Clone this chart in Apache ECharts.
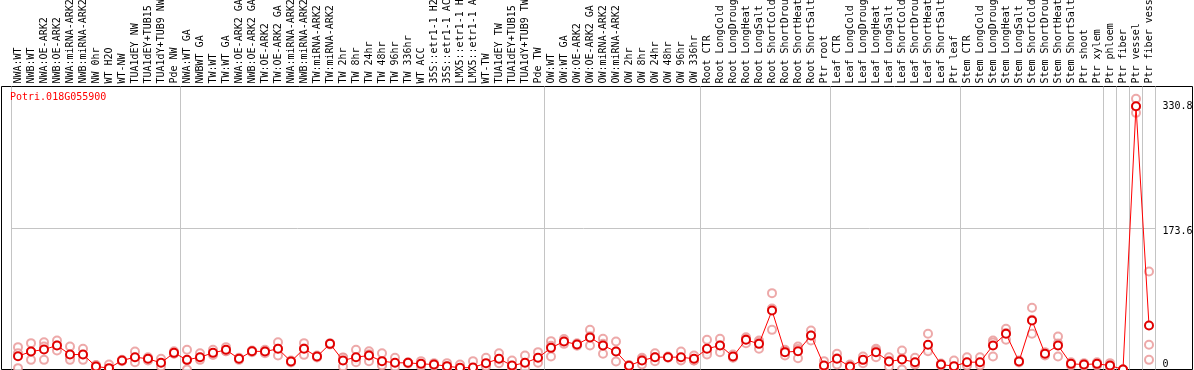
<!DOCTYPE html>
<html><head><meta charset="utf-8">
<script src="https://cdn.jsdelivr.net/npm/echarts@6/dist/echarts.min.js"></script>
<style>html,body{margin:0;padding:0;background:#fff}#c{width:1194px;height:370px}</style>
</head><body><div id="c"></div>
<script>
const chartTitle = 'Potri.018G055900';
const categories = [
  'NWA:WT','NWB:WT','NWA:OE-ARK2','NWB:OE-ARK2','NWA:miRNA-ARK2','NWB:miRNA-ARK2','NW 0hr','WT H2O','WT-NW','TUA1dEY NW','TUA1dEY+TUB15','TUA1dY+TUB9 NW','Pde NW',
  'NWA:WT GA','NWBWT GA','TW:WT','TW:WT GA','NWA:OE-ARK2 GA','NWB:OE-ARK2 GA','TW:OE-ARK2','TW:OE-ARK2 GA','NWA:miRNA-ARK2','NWB:miRNA-ARK2','TW:miRNA-ARK2','TW:miRNA-ARK2',
  'TW 2hr','TW 8hr','TW 24hr','TW 48hr','TW 96hr','TW 336hr','WT ACC','35S::etr1-1 H2','35S::etr1-1 AC','LMX5::etr1-1 H','LMX5::etr1-1 A','WT-TW','TUA1dEY TW','TUA1dEY+TUB15','TUA1dY+TUB9 TW','Pde TW',
  'OW:WT','OW:WT GA','OW:OE-ARK2','OW:OE-ARK2 GA','OW:miRNA-ARK2','OW:miRNA-ARK2','OW 2hr','OW 8hr','OW 24hr','OW 48hr','OW 96hr','OW 336hr',
  'Root CTR','Root LongCold','Root LongDroug','Root LongHeat','Root LongSalt','Root ShortCold','Root ShortDrou','Root ShortHeat','Root ShortSalt','Ptr root',
  'Leaf CTR','Leaf LongCold','Leaf LongDroug','Leaf LongHeat','Leaf LongSalt','Leaf ShortCold','Leaf ShortDrou','Leaf ShortHeat','Leaf ShortSalt','Ptr leaf',
  'Stem CTR','Stem LongCold','Stem LongDroug','Stem LongHeat','Stem LongSalt','Stem ShortCold','Stem ShortDrou','Stem ShortHeat','Stem ShortSalt','Ptr shoot','Ptr xylem',
  'Ptr phloem','Ptr fiber','Ptr vessel','Ptr fiber vess'
];
const meanValues = [
  16.7,22.6,25.1,30.2,18.8,18.8,3.8,1.7,11.3,15.5,13.4,8.4,20.9,
  12.1,15.5,20.9,24.7,13.4,23.0,22.6,26.0,10.1,26.0,16.3,32.2,
  11.3,15.5,17.6,10.5,8.4,8.4,7.1,6.3,4.2,2.1,2.5,8.0,13.4,5.0,8.4,14.7,
  27.2,35.2,31.4,40.2,30.2,22.6,4.6,11.3,15.5,15.5,15.5,13.4,
  26.0,30.2,16.3,37.3,32.2,74.1,21.8,23.0,42.7,5.0,
  13.4,3.8,12.1,21.8,10.1,12.6,9.2,31.0,6.3,4.2,
  9.2,9.2,30.2,44.8,10.1,61.6,19.7,30.2,7.1,6.3,7.1,
  5.0,0.0,330.8,55.3
];
const rep1 = [
  28.1,33.1,34.3,36.4,28.9,26.0,5.6,6.3,12.1,22.6,15.5,13.4,23.0,
  24.7,20.5,24.7,28.1,14.7,23.9,24.7,34.3,11.3,33.1,17.5,33.1,
  15.2,24.7,23.0,20.5,14.7,9.2,10.5,8.0,8.0,6.3,10.5,14.7,20.5,11.3,17.6,21.8,
  35.6,38.2,33.0,49.8,38.5,35.2,5.5,14.7,20.5,16.3,22.6,17.6,
  37.3,38.5,18.8,40.6,36.3,95.9,24.7,28.9,49.0,10.5,
  19.7,6.3,16.3,26.0,15.5,23.9,14.7,44.8,7.5,11.3,
  15.5,15.5,36.4,51.1,11.3,77.5,21.8,41.5,9.2,8.0,9.2,
  8.0,0.0,340.0,123.1
];
const rep2 = [
  20.3,22.6,28.9,30.3,15.4,18.3,5.0,0.0,11.3,14.7,13.4,8.0,20.0,
  11.6,13.9,19.7,23.0,13.4,23.3,22.6,26.1,10.1,26.5,16.3,32.2,
  14.9,12.6,19.3,6.0,7.6,8.4,7.0,6.3,3.8,0.0,0.0,5.5,11.7,2.9,6.8,13.9,
  29.7,35.2,31.4,41.8,32.4,22.5,4.6,12.9,15.5,15.5,12.6,11.3,
  21.9,30.3,15.4,38.2,34.3,76.6,23.1,25.9,42.7,3.0,
  14.2,3.8,12.0,23.9,11.0,13.9,6.6,25.2,6.3,1.3,
  7.1,7.1,34.0,46.0,10.1,62.5,19.7,32.8,7.1,6.3,7.1,
  5.0,0.0,330.0,31.0
];
const rep3 = [
  1.7,12.1,12.1,23.9,12.1,12.1,0.8,0.0,10.5,9.2,11.3,3.8,19.7,
  0.0,12.1,18.3,23.0,12.1,21.8,20.5,17.6,8.9,18.4,15.1,31.3,
  3.8,9.2,10.5,5.0,2.9,7.6,3.8,4.6,0.8,0.0,0.0,3.8,8.0,0.8,0.8,8.4,
  16.3,32.2,29.8,30.2,19.7,10.1,3.7,6.3,10.5,14.7,11.3,11.3,
  18.8,21.8,14.7,33.1,26.0,49.8,17.6,14.2,36.4,1.5,
  6.3,1.3,8.0,15.5,3.8,0.0,6.3,23.0,5.1,0.0,
  5.0,5.0,16.3,37.3,8.9,44.8,17.6,16.3,5.0,4.6,5.0,
  2.0,0.0,322.4,12.1
];
const groupBounds = [0,13,41,53,63,73,84,85,86,87,88];
const yTickLabels = [0, 173.6, 330.8];
const yMax = 355.5;

const mono = "'DejaVu Sans Mono', monospace";
const repStyle = (data) => ({
  type: 'scatter', xAxisIndex: 0, yAxisIndex: 0, data: data,
  symbol: 'emptyCircle', symbolSize: 8, z: 3,
  itemStyle: { color: '#e99494', borderWidth: 1 },
  silent: true
});

const chart = echarts.init(document.getElementById('c'), null, { renderer: 'canvas' });
chart.setOption({
  animation: false,
  backgroundColor: '#fff',
  title: {
    text: chartTitle, left: 10, top: 92, padding: 0,
    textStyle: { color: '#ff0000', fontFamily: mono, fontSize: 10, fontWeight: 'normal' }
  },
  grid: [
    { left: 11.5, top: 86.5, width: 1144, height: 283, outerBoundsMode: 'none', containLabel: false },
    { left: 1.5, top: 86.5, right: 1.5, bottom: 0.5, show: true, borderColor: '#000', borderWidth: 1,
      backgroundColor: 'transparent', outerBoundsMode: 'none', containLabel: false }
  ],
  xAxis: [
    { type: 'category', gridIndex: 0, position: 'top', data: categories, boundaryGap: true,
      axisLine: { show: false }, axisTick: { show: false }, splitLine: { show: false },
      axisLabel: { interval: 0, rotate: 90, margin: 3, color: '#000', fontFamily: mono, fontSize: 10 } },
    { type: 'value', gridIndex: 0, min: 0, max: categories.length, show: false },
    { type: 'value', gridIndex: 1, show: false }
  ],
  yAxis: [
    { type: 'value', gridIndex: 0, position: 'right', min: 0, max: yMax,
      axisLine: { show: false }, axisTick: { show: false }, splitLine: { show: false },
      axisLabel: { customValues: yTickLabels, margin: 7, color: '#000', fontFamily: mono, fontSize: 10,
        verticalAlignMinLabel: 'bottom', formatter: (v) => String(v) } },
    { type: 'value', gridIndex: 1, show: false }
  ],
  series: [
    { type: 'line', xAxisIndex: 1, yAxisIndex: 0, data: [], z: 1, silent: true,
      markLine: {
        silent: true, symbol: ['none', 'none'], label: { show: false }, animation: false,
        lineStyle: { color: '#c4c4c4', type: 'solid', width: 1 },
        data: groupBounds.map(b => ({ xAxis: b })).concat([{ yAxis: yMax / 2 }])
      } },
    repStyle(rep1), repStyle(rep2), repStyle(rep3),
    { type: 'line', xAxisIndex: 0, yAxisIndex: 0, data: meanValues, z: 5,
      symbol: 'emptyCircle', symbolSize: 8, showAllSymbol: true,
      lineStyle: { color: '#ff0000', width: 1 },
      itemStyle: { color: '#e00000', borderWidth: 1.6 }, silent: true }
  ]
});
</script></body></html>
